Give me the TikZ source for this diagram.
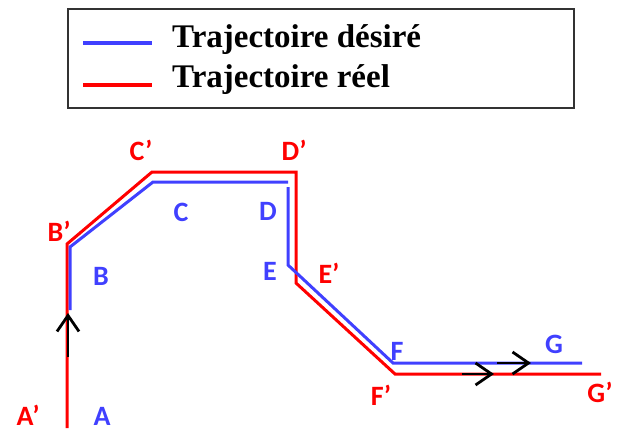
\documentclass[tikz,border=0pt]{standalone}
\usepackage{fontspec}
\setmainfont{Liberation Serif}
\newfontfamily\lblfont{Carlito}
\usetikzlibrary{arrows.meta}
\definecolor{tblue}{RGB}{64,64,255}
\definecolor{tred}{RGB}{255,0,0}
\tikzset{
  legtext/.style={anchor=base west,inner sep=0pt,font=\fontsize{33}{36}\selectfont\bfseries},
  bluelbl/.style={anchor=base,inner sep=0pt,text=tblue,font=\fontsize{28}{30}\selectfont\lblfont\bfseries},
  redlbl/.style={anchor=base,inner sep=0pt,text=tred,font=\fontsize{28}{30}\selectfont\lblfont\bfseries},
  bluepath/.style={draw=tblue,line width=3pt},
  redpath/.style={draw=tred,line width=3pt},
  dirarrow/.style={draw=black,line width=2.8pt,-{Straight Barb[length=16pt,width=22pt,line width=2.8pt]}},
  legbox/.style={draw=black!80,line width=2pt}
}
\begin{document}
\begin{tikzpicture}[x=1pt,y=-1pt]
\useasboundingbox (0,0) rectangle (618,432);
% legend
\draw[legbox] (68,9) rectangle (574,108);
\coordinate (lb1) at (83,43); \coordinate (lb2) at (152,43);
\coordinate (lr1) at (83,85); \coordinate (lr2) at (152,85);
\draw[draw=tblue,line width=4pt] (lb1) -- (lb2);
\draw[draw=tred,line width=4pt] (lr1) -- (lr2);
\node[legtext] (t1) at (172,47) {Trajectoire désiré};
\node[legtext] (t2) at (172,87) {Trajectoire réel};
% red trajectory
\coordinate (rA) at (67,428);
\coordinate (rB) at (67,244);
\coordinate (rC) at (152,172);
\coordinate (rD) at (296,172);
\coordinate (rE) at (296,283);
\coordinate (rF) at (395,374);
\coordinate (rG) at (601,374);
\draw[redpath,line join=miter] (rA) -- (rB) -- (rC) -- (rD) -- (rE) -- (rF) -- (rG);
% blue trajectory
\coordinate (bA) at (70,310);
\coordinate (bB) at (70,247);
\coordinate (bC) at (153,182);
\coordinate (bD) at (288,182);
\coordinate (bD2) at (288,187);
\coordinate (bE) at (288,265);
\coordinate (bF) at (393,363);
\coordinate (bG) at (582,363);
\draw[bluepath] (bA) -- (bB) -- (bC) -- (bD);
\draw[bluepath] (bD2) -- (bE) -- (bF) -- (bG);
% direction arrows
\coordinate (a1s) at (68,357); \coordinate (a1e) at (68,313);
\coordinate (a2s) at (462,374); \coordinate (a2e) at (494,374);
\coordinate (a3s) at (497,363); \coordinate (a3e) at (531,363);
\draw[dirarrow] (a1s) -- (a1e);
\draw[dirarrow] (a2s) -- (a2e);
\draw[dirarrow] (a3s) -- (a3e);
% labels
\node[redlbl] (lA') at (28,425) {A’};
\node[bluelbl] (lA) at (102,425) {A};
\node[redlbl] (lB') at (59,241) {B’};
\node[bluelbl] (lB) at (101,285) {B};
\node[redlbl] (lC') at (141,160) {C’};
\node[bluelbl] (lC) at (181,221) {C};
\node[redlbl] (lD') at (294,160) {D’};
\node[bluelbl] (lD) at (268,220) {D};
\node[bluelbl] (lE) at (270,280) {E};
\node[redlbl] (lE') at (329,283) {E’};
\node[bluelbl] (lF) at (397,360) {F};
\node[redlbl] (lF') at (381,405) {F’};
\node[bluelbl] (lG) at (554,353) {G};
\node[redlbl] (lG') at (600,402) {G’};
\end{tikzpicture}
\end{document}
